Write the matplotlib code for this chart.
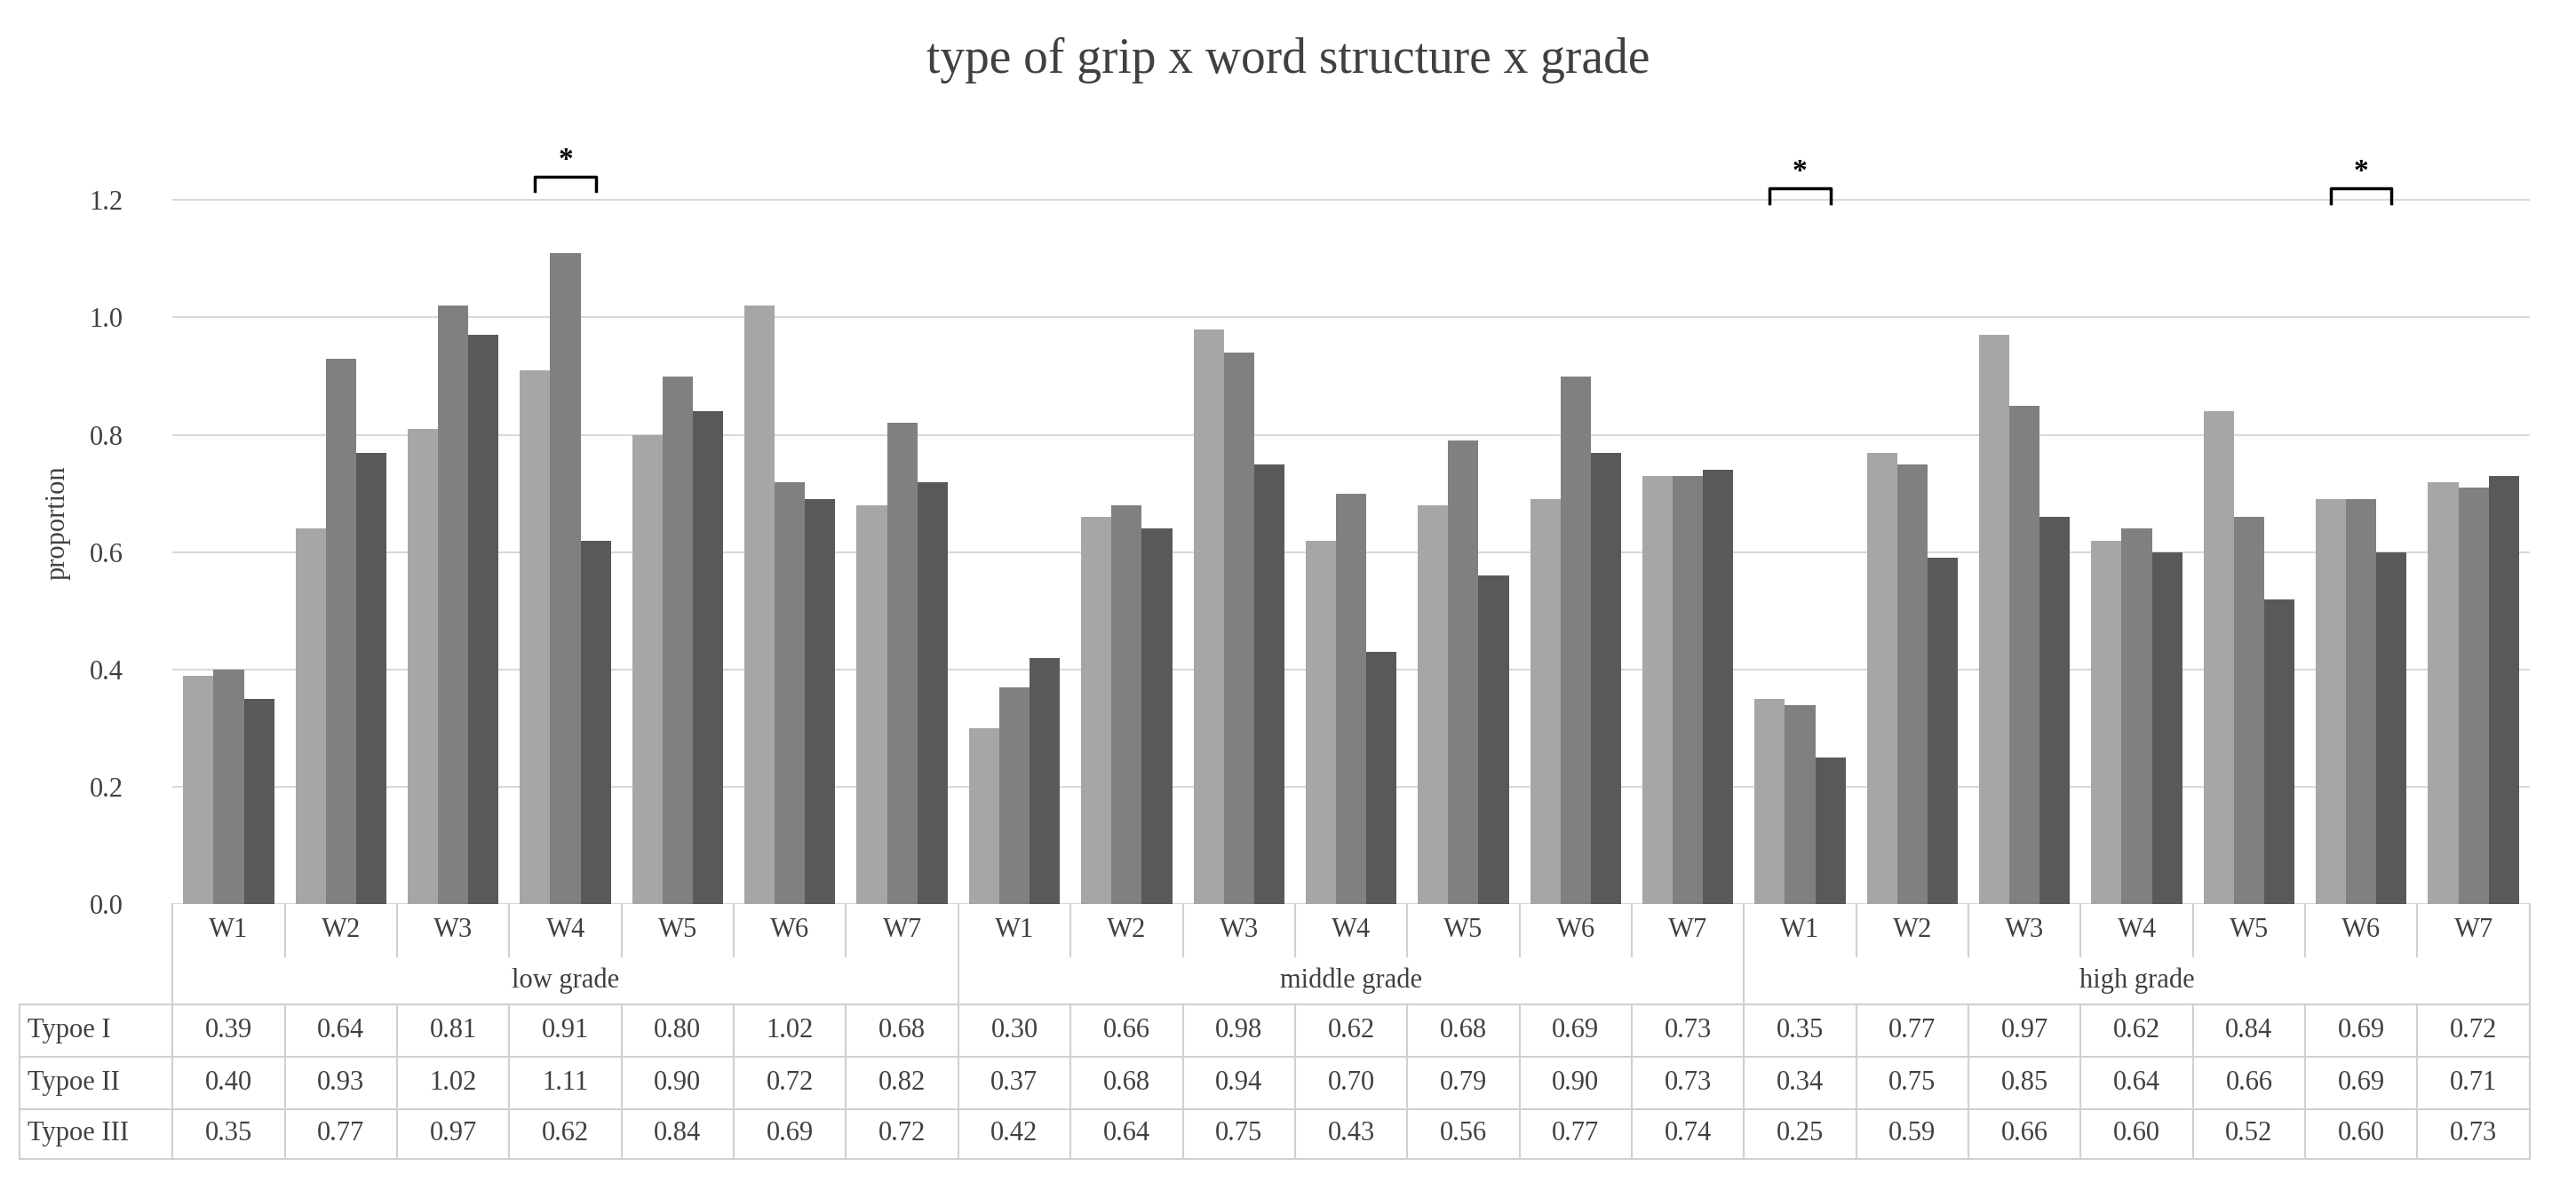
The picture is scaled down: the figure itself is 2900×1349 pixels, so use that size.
import matplotlib
matplotlib.use("Agg")
import matplotlib.pyplot as plt
import numpy as np

plt.rcParams['font.family'] = ['Liberation Serif', 'DejaVu Serif']

words = ["W1", "W2", "W3", "W4", "W5", "W6", "W7"]
grades = ["low grade", "middle grade", "high grade"]
series_names = ["Typoe I", "Typoe II", "Typoe III"]
type1 = [0.39, 0.64, 0.81, 0.91, 0.80, 1.02, 0.68, 0.30, 0.66, 0.98, 0.62, 0.68, 0.69, 0.73, 0.35, 0.77, 0.97, 0.62, 0.84, 0.69, 0.72]
type2 = [0.40, 0.93, 1.02, 1.11, 0.90, 0.72, 0.82, 0.37, 0.68, 0.94, 0.70, 0.79, 0.90, 0.73, 0.34, 0.75, 0.85, 0.64, 0.66, 0.69, 0.71]
type3 = [0.35, 0.77, 0.97, 0.62, 0.84, 0.69, 0.72, 0.42, 0.64, 0.75, 0.43, 0.56, 0.77, 0.74, 0.25, 0.59, 0.66, 0.60, 0.52, 0.60, 0.73]
sig_groups = [3, 14, 19]
sig_y = [1.24, 1.22, 1.22]

colors = ["#a6a6a6", "#808080", "#595959"]
grid_c = "#d9d9d9"
txt_c = "#404040"

fig = plt.figure(figsize=(29, 13.49), dpi=100)
L, R, B, T = 0.067, 0.982, 0.245, 0.882
ax = fig.add_axes([L, B, R - L, T - B])
n = len(type1)
x = np.arange(n)
w = 0.27
for i, (vals, c) in enumerate(zip([type1, type2, type3], colors)):
    ax.bar(x + (i - 1) * w, vals, width=w, color=c, zorder=3)
ax.set_xlim(-0.5, n - 0.5)
ax.set_ylim(0, 1.3)
ax.set_yticks(np.arange(0, 1.21, 0.2))
ax.set_yticklabels([f"{v:.1f}" for v in np.arange(0, 1.21, 0.2)], fontsize=22, color=txt_c)
ax.yaxis.grid(True, color=grid_c, lw=1.5, zorder=0)
ax.tick_params(axis='y', length=0, pad=40)
ax.set_xticks([])
for s in ax.spines.values():
    s.set_visible(False)
ax.axhline(0, color=grid_c, lw=1.5)
ax.set_ylabel("proportion", fontsize=22, color=txt_c, labelpad=15)
for g, yv in zip(sig_groups, sig_y):
    x0, x1 = g - w, g + w
    ax.plot([x0, x0, x1, x1], [yv - 0.025, yv, yv, yv - 0.025], color="black", lw=2.5)
    ax.text(g, yv + 0.005, "*", ha='center', va='bottom', fontsize=24, fontweight='bold')

fig.text(0.5, 0.95, "type of grip x word structure x grade", ha='center', va='center', fontsize=40, color=txt_c)

# table
def fy(py):
    return 1 - py / 730.0
rows = [551, 583, 612, 644, 676, 706]
lab_l = 12 / 1568.0
cw = (R - L) / n
lc = "#d0d0d0"
def hline(y, x0, x1):
    fig.add_artist(plt.Line2D([x0, x1], [y, y], color=lc, lw=1.5, transform=fig.transFigure))
def vline(x_, y0, y1):
    fig.add_artist(plt.Line2D([x_, x_], [y0, y1], color=lc, lw=1.5, transform=fig.transFigure))
for k in range(n):
    fig.text(L + (k + 0.5) * cw, fy((rows[0] + rows[1]) / 2), words[k % 7], ha='center', va='center', fontsize=22, color=txt_c)
for gi, g in enumerate(grades):
    fig.text(L + (gi * 7 + 3.5) * cw, fy((rows[1] + rows[2]) / 2), g, ha='center', va='center', fontsize=22, color=txt_c)
for ri, (name, vals) in enumerate(zip(series_names, [type1, type2, type3])):
    yc = fy((rows[2 + ri] + rows[3 + ri]) / 2)
    fig.text(lab_l + 0.003, yc, name, ha='left', va='center', fontsize=22, color=txt_c)
    for k, v in enumerate(vals):
        fig.text(L + (k + 0.5) * cw, yc, f"{v:.2f}", ha='center', va='center', fontsize=22, color=txt_c)
for yy in rows[2:]:
    hline(fy(yy), lab_l, R)
for k in range(n + 1):
    xx = L + k * cw
    if k % 7 == 0:
        vline(xx, fy(rows[0]), fy(rows[-1]))
    else:
        vline(xx, fy(rows[0]), fy(rows[1]))
        vline(xx, fy(rows[2]), fy(rows[-1]))
vline(lab_l, fy(rows[2]), fy(rows[-1]))

fig.savefig("out.png", dpi=100)
